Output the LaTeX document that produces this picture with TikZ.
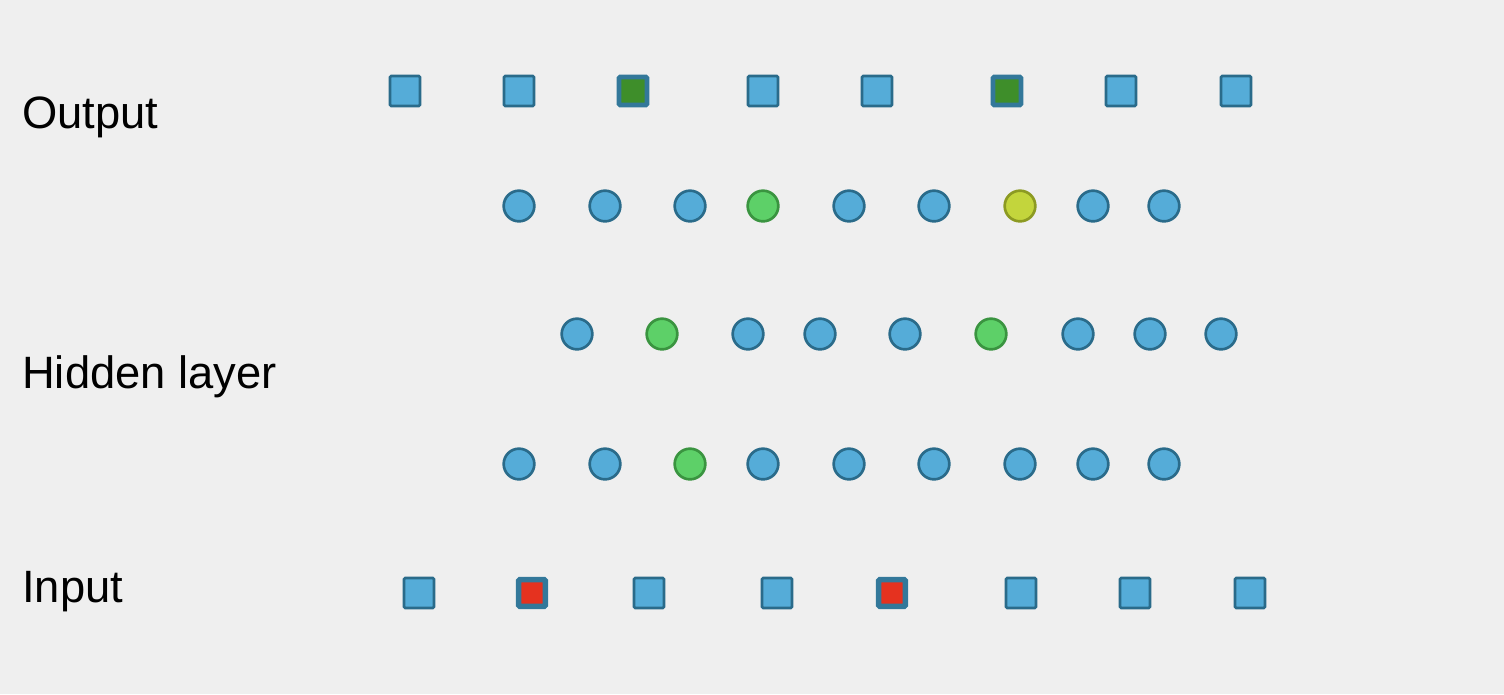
\documentclass[tikz,border=0pt]{standalone}
\usepackage{fontspec}
\setmainfont{Liberation Sans}
\definecolor{bgGray}{HTML}{EFEFEF}
\definecolor{unitBlue}{HTML}{55ACD8}
\definecolor{unitEdge}{HTML}{2A6B8A}
\definecolor{hotGreen}{HTML}{5DD068}
\definecolor{hotGreenEdge}{HTML}{3A9440}
\definecolor{hotLime}{HTML}{C3D53C}
\definecolor{hotLimeEdge}{HTML}{8C9A22}
\definecolor{outGreen}{HTML}{3E8E2A}
\definecolor{inRed}{HTML}{E5321F}
\tikzset{
  unit/.style={rectangle, draw=unitEdge, fill=unitBlue, line width=2pt, rounded corners=1pt, minimum size=22.5pt, inner sep=0pt},
  hotout/.style={unit, draw=unitEdge!80!unitBlue, fill=outGreen, line width=3.6pt, minimum size=21pt},
  hotin/.style={unit, draw=unitEdge!80!unitBlue, fill=inRed, line width=4.2pt, minimum size=20pt},
  neuron/.style={circle, draw=unitEdge, fill=unitBlue, line width=2pt, minimum size=23pt, inner sep=0pt},
  hotneuron/.style={neuron, draw=hotGreenEdge, fill=hotGreen},
  limeneuron/.style={neuron, draw=hotLimeEdge, fill=hotLime},
  layerlabel/.style={anchor=base west, inner sep=0pt, font=\fontsize{34}{40}\selectfont}
}
\begin{document}
\begin{tikzpicture}[x=0.75pt,y=0.75pt,yscale=-1,xscale=1]
\fill[bgGray] (0,0) rectangle (1504,694);
\useasboundingbox (0,0) rectangle (1504,694);
% labels
\node[layerlabel] (lblout) at (22,128) {Output};
\node[layerlabel] (lblhid) at (22,388) {Hidden layer};
\node[layerlabel] (lblin) at (22,602) {Input};
% output units
\foreach \x/\s [count=\i] in {405/unit,519/unit,633/hotout,763/unit,877/unit,1007/hotout,1121/unit,1236/unit}
  \node[\s] (out\i) at (\x,91) {};
% hidden layer, top row
\foreach \x/\s [count=\i] in {519/neuron,605/neuron,690/neuron,763/hotneuron,849/neuron,934/neuron,1020/limeneuron,1093/neuron,1164/neuron}
  \node[\s] (ha\i) at (\x,206) {};
% hidden layer, middle row
\foreach \x/\s [count=\i] in {577/neuron,662/hotneuron,748/neuron,820/neuron,905/neuron,991/hotneuron,1078/neuron,1150/neuron,1221/neuron}
  \node[\s] (hb\i) at (\x,334) {};
% hidden layer, bottom row
\foreach \x/\s [count=\i] in {519/neuron,605/neuron,690/hotneuron,763/neuron,849/neuron,934/neuron,1020/neuron,1093/neuron,1164/neuron}
  \node[\s] (hc\i) at (\x,464) {};
% input units
\foreach \x/\s [count=\i] in {419/unit,532/hotin,649/unit,777/unit,892/hotin,1021/unit,1135/unit,1250/unit}
  \node[\s] (in\i) at (\x,593) {};
\end{tikzpicture}
\end{document}
